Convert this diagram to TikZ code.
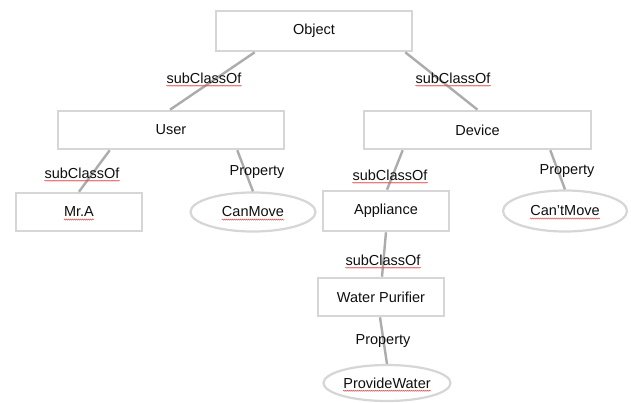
\documentclass[tikz,border=0pt]{standalone}
\usepackage{fontspec}
\setmainfont{Liberation Sans}
\usetikzlibrary{shapes.geometric,calc,decorations.pathmorphing}
\definecolor{boxgray}{RGB}{214,214,214}
\definecolor{linegray}{RGB}{172,172,172}
\definecolor{txt}{RGB}{15,15,15}
\definecolor{spellred}{RGB}{225,80,80}
\begin{document}
\begin{tikzpicture}[x=1pt,y=-1pt,
  font=\fontsize{14.5}{17}\selectfont, text=txt,
  rbox/.style={draw=boxgray, line width=2.6pt, rectangle, inner sep=0pt, minimum height=#1},
  oval/.style={draw=boxgray, line width=2.2pt, ellipse, inner sep=0pt},
  conn/.style={draw=linegray, line width=2.4pt},
  lbl/.style={inner sep=0pt},
  wave/.style={draw=spellred, line width=0.5pt, decorate,
    decoration={snake, amplitude=0.55pt, segment length=2pt}}]
\useasboundingbox[fill=white] (0,0) rectangle (631,403);
% nodes
\node[rbox=40pt, minimum width=196pt] (obj) at (314,31) {Object};
\node[rbox=38pt, minimum width=226pt] (user) at (171,130) {User};
\node[rbox=38pt, minimum width=227pt] (dev) at (477.5,130) {Device};
\node[rbox=38pt, minimum width=126pt] (mra) at (79,212) {};
\node[rbox=40pt, minimum width=126pt] (app) at (386,211) {Appliance};
\node[rbox=38pt, minimum width=126pt] (wp) at (381,297) {Water Purifier};
\node[oval, minimum width=125pt, minimum height=39pt] (canmove) at (253,212) {};
\node[oval, minimum width=124pt, minimum height=41pt] (cantmove) at (565,211) {};
\node[oval, minimum width=127pt, minimum height=36pt] (pw) at (387,383) {};
% texts in shapes with underline
\node[lbl] (tmra) at (mra) {Mr.A};
\node[lbl] (tcanmove) at (canmove) {CanMove};
\node[lbl] (tcantmove) at (cantmove) {Can'tMove};
\node[lbl] (tpw) at (pw) {ProvideWater};
% connectors
\draw[conn] ([xshift=40pt]obj.south west) -- ([xshift=-1pt]user.north);
\draw[conn] ([xshift=-8pt]obj.south east) -- (dev.north);
\draw[conn] ([xshift=53pt]user.south west) -- (mra.north);
\draw[conn] ([xshift=-48pt]user.south east) -- (canmove.north);
\draw[conn] ([xshift=40pt]dev.south west) -- ([xshift=1pt]app.north);
\draw[conn] ([xshift=-42pt]dev.south east) -- (cantmove.north);
\draw[conn] ([xshift=0pt]app.south) -- ([xshift=1pt]wp.north);
\draw[conn] ([xshift=-1pt]wp.south) -- (pw.north);
% labels
\node[lbl] (l1) at (204,78) {subClassOf};
\node[lbl] (l2) at (453,78) {subClassOf};
\node[lbl] (l3) at (82,173) {subClassOf};
\node[lbl] (l4) at (257,172) {Property};
\node[lbl] (l5) at (390,175) {subClassOf};
\node[lbl] (l6) at (567,171) {Property};
\node[lbl] (l7) at (383,260) {subClassOf};
\node[lbl] (l8) at (383,341) {Property};
% spell-check underlines
\foreach \n in {tmra,tcanmove,tcantmove,tpw,l1,l2,l3,l5,l7}
  \draw[wave] ([yshift=-2.6pt]\n.base west) -- ([yshift=-2.6pt]\n.base east);
\end{tikzpicture}
\end{document}
